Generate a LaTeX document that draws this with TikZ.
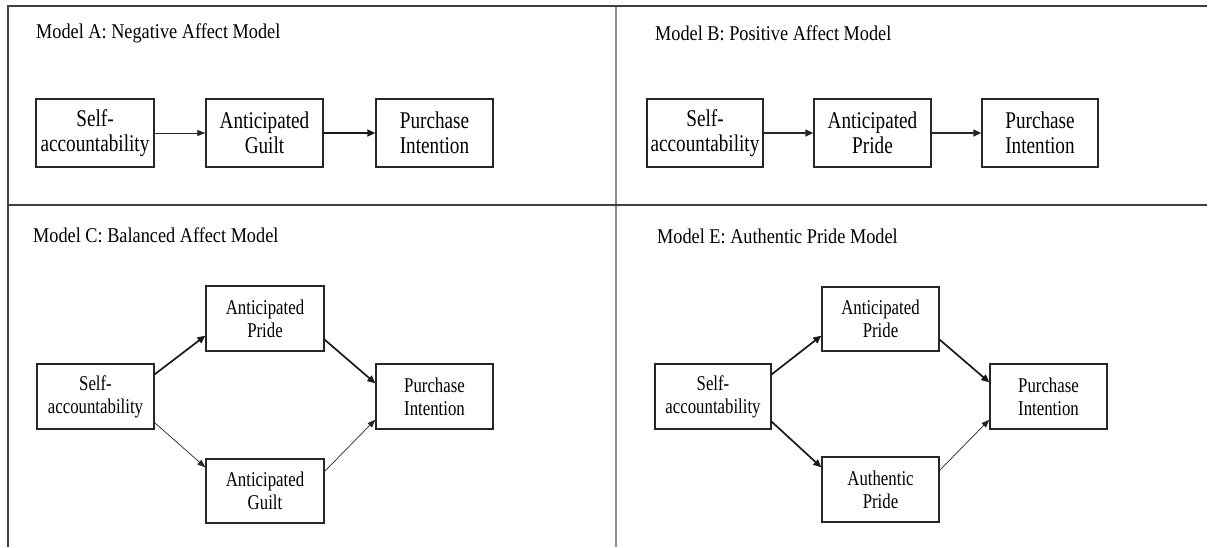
\documentclass[tikz,border=0pt]{standalone}
\usepackage{fontspec}
\setmainfont{Liberation Serif}
\newfontfamily\boxfont[FakeStretch=0.8]{Liberation Serif}
\newfontfamily\titlefont[FakeStretch=0.87]{Liberation Serif}
\usetikzlibrary{arrows.meta,calc}
\begin{document}
\begin{tikzpicture}[x=1pt,y=-1pt,
  box/.style={draw=black!85,line width=1.3pt,rectangle,inner sep=0pt,align=center},
  bigbox/.style={box,minimum width=117pt,minimum height=68pt,font=\boxfont\fontsize{24}{25}\selectfont},
  smallbox/.style={box,minimum width=117pt,minimum height=65pt,font=\boxfont\fontsize{21}{23}\selectfont},
  title/.style={anchor=west,inner sep=0pt,font=\titlefont\fontsize{21}{24}\selectfont},
  thin/.style={draw=black!85,line width=0.7pt,-{Triangle[length=8pt,width=6pt]}},
  thick/.style={draw=black!90,line width=1.7pt,-{Triangle[length=8pt,width=7pt]}},
  mid/.style={draw=black!85,line width=1.3pt,-{Triangle[length=8pt,width=7pt]}},
  frame/.style={draw=black!75,line width=1.2pt},
  divider/.style={draw=black!45,line width=1.8pt}
]
\useasboundingbox (0,0) rectangle (1208,547);
% frame lines
\coordinate (tl) at (8,6);
\coordinate (tr) at (1207,6);
\coordinate (bl) at (8,547);
\coordinate (ml) at (8,205);
\coordinate (mr) at (1207,205);
\coordinate (vt) at (616,6);
\coordinate (vb) at (616,547);
\draw[divider] (vt) -- (vb);
\draw[frame] (bl) -- (tl) -- (tr);
\draw[frame] (ml) -- (mr);

% Model A
\node[title] (ta) at (36,33) {Model A: Negative Affect Model};
\node[bigbox,minimum width=118pt] (a1) at (95,133) {Self-\\accountability};
\node[bigbox] (a2) at (264.5,133) {Anticipated\\Guilt};
\node[bigbox] (a3) at (434.5,133) {Purchase\\Intention};
\draw[thin] (a1) -- (a2);
\draw[thick] (a2) -- (a3);

% Model B
\node[title] (tb) at (655,33) {Model B: Positive Affect Model};
\node[bigbox,minimum width=116pt] (b1) at (705,133) {Self-\\accountability};
\node[bigbox] (b2) at (872.5,133) {Anticipated\\Pride};
\node[bigbox,minimum width=116pt] (b3) at (1040,133) {Purchase\\Intention};
\draw[mid] (b1) -- (b2);
\draw[mid] (b2) -- (b3);

% Model C
\node[title] (tc) at (33,235) {Model C: Balanced Affect Model};
\node[smallbox,minimum width=118pt] (cp) at (265,318.5) {Anticipated\\Pride};
\node[smallbox] (cs) at (95.5,396.5) {Self-\\accountability};
\node[smallbox] (cu) at (434.5,396.5) {Purchase\\Intention};
\node[smallbox,minimum width=118pt,minimum height=64pt] (cg) at (265,491) {Anticipated\\Guilt};
\draw[thick] ($(cs.north east)+(0,11)$) -- ($(cp.south west)+(0,-16)$);
\draw[thin] ($(cs.south east)+(0,-7)$) -- ($(cg.north west)+(0,9)$);
\draw[thick] ($(cp.south east)+(0,-12)$) -- ($(cu.north west)+(0,20)$);
\draw[thin] ($(cg.north east)+(0,13)$) -- ($(cu.south west)+(0,-10)$);

% Model E
\node[title] (te) at (657,236) {Model E: Authentic Pride Model};
\node[smallbox,minimum height=64pt] (ep) at (880.5,319) {Anticipated\\Pride};
\node[smallbox,minimum width=116pt] (es) at (713,396.5) {Self-\\accountability};
\node[smallbox] (eu) at (1048.5,396.5) {Purchase\\Intention};
\node[smallbox] (ea) at (880.5,489.5) {Authentic\\Pride};
\draw[thick] ($(es.north east)+(0,11)$) -- ($(ep.south west)+(0,-16)$);
\draw[thick] ($(es.south east)+(0,-8)$) -- ($(ea.north west)+(0,11)$);
\draw[thick] ($(ep.south east)+(0,-12)$) -- ($(eu.north west)+(0,19)$);
\draw[thin] ($(ea.north east)+(0,14)$) -- ($(eu.south west)+(0,-10)$);
\end{tikzpicture}
\end{document}
